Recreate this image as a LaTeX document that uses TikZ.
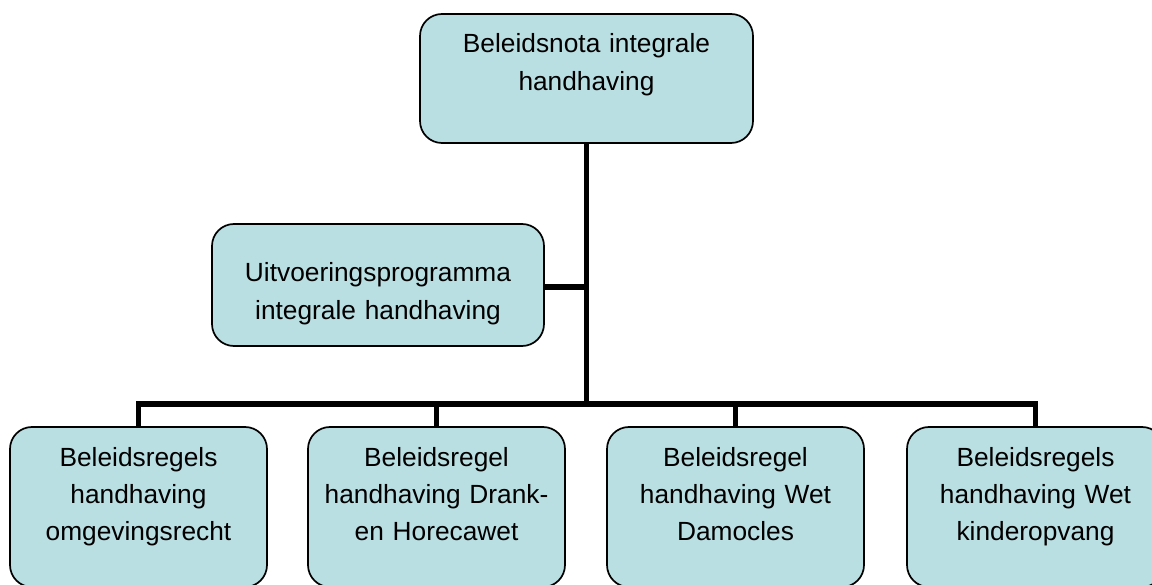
\documentclass[tikz,border=0pt]{standalone}
\usepackage{fontspec}
\setmainfont{Liberation Sans}
\definecolor{boxfill}{RGB}{185,223,227}
\begin{document}
\begin{tikzpicture}[x=1pt,y=-1pt,
  orgbox/.style={draw=black,line width=1.7pt,fill=boxfill,rounded corners=22pt,
    rectangle,inner sep=0pt,outer sep=0pt},
  orgtext/.style={anchor=base,inner sep=0pt,text width=330pt,align=center,
    font=\fontsize{26.3}{37.2}\selectfont},
  conn/.style={line width=5.8pt,draw=black}]
\useasboundingbox (0,0) rectangle (1152,585);
% boxes
\node[orgbox,minimum width=333pt,minimum height=129pt] (top) at (586.5,78.5) {};
\node[orgbox,minimum width=332pt,minimum height=122pt] (mid) at (378,285) {};
\node[orgbox,minimum width=257pt,minimum height=160pt] (b1) at (138.5,507) {};
\node[orgbox,minimum width=257pt,minimum height=160pt] (b2) at (436.5,507) {};
\node[orgbox,minimum width=257pt,minimum height=160pt] (b3) at (735.5,507) {};
\node[orgbox,minimum width=257pt,minimum height=160pt] (b4) at (1035.5,507) {};
% texts
\node[orgtext] (ttop) at (586.5,53) {Beleidsnota integrale\\handhaving};
\node[orgtext] (tmid) at (378,282) {Uitvoeringsprogramma\\integrale handhaving};
\node[orgtext] (tb1) at (138.5,466) {Beleidsregels\\handhaving\\omgevingsrecht};
\node[orgtext] (tb2) at (436.5,466) {Beleidsregel\\handhaving Drank-\\en Horecawet};
\node[orgtext] (tb3) at (735.5,466) {Beleidsregel\\handhaving Wet\\Damocles};
\node[orgtext] (tb4) at (1035.5,466) {Beleidsregels\\handhaving Wet\\kinderopvang};
% connectors
\coordinate (bus) at (586.5,404);
\coordinate (midjoin) at (586.5,287);
\draw[conn] (top.south) -- (bus);
\draw[conn] (mid.east |- midjoin) -- (midjoin);
\draw[conn] (b1.north) -- (b1.north |- bus) -- (b4.north |- bus) -- (b4.north);
\draw[conn] (b2.north) -- (b2.north |- bus);
\draw[conn] (b3.north) -- (b3.north |- bus);
\end{tikzpicture}
\end{document}
